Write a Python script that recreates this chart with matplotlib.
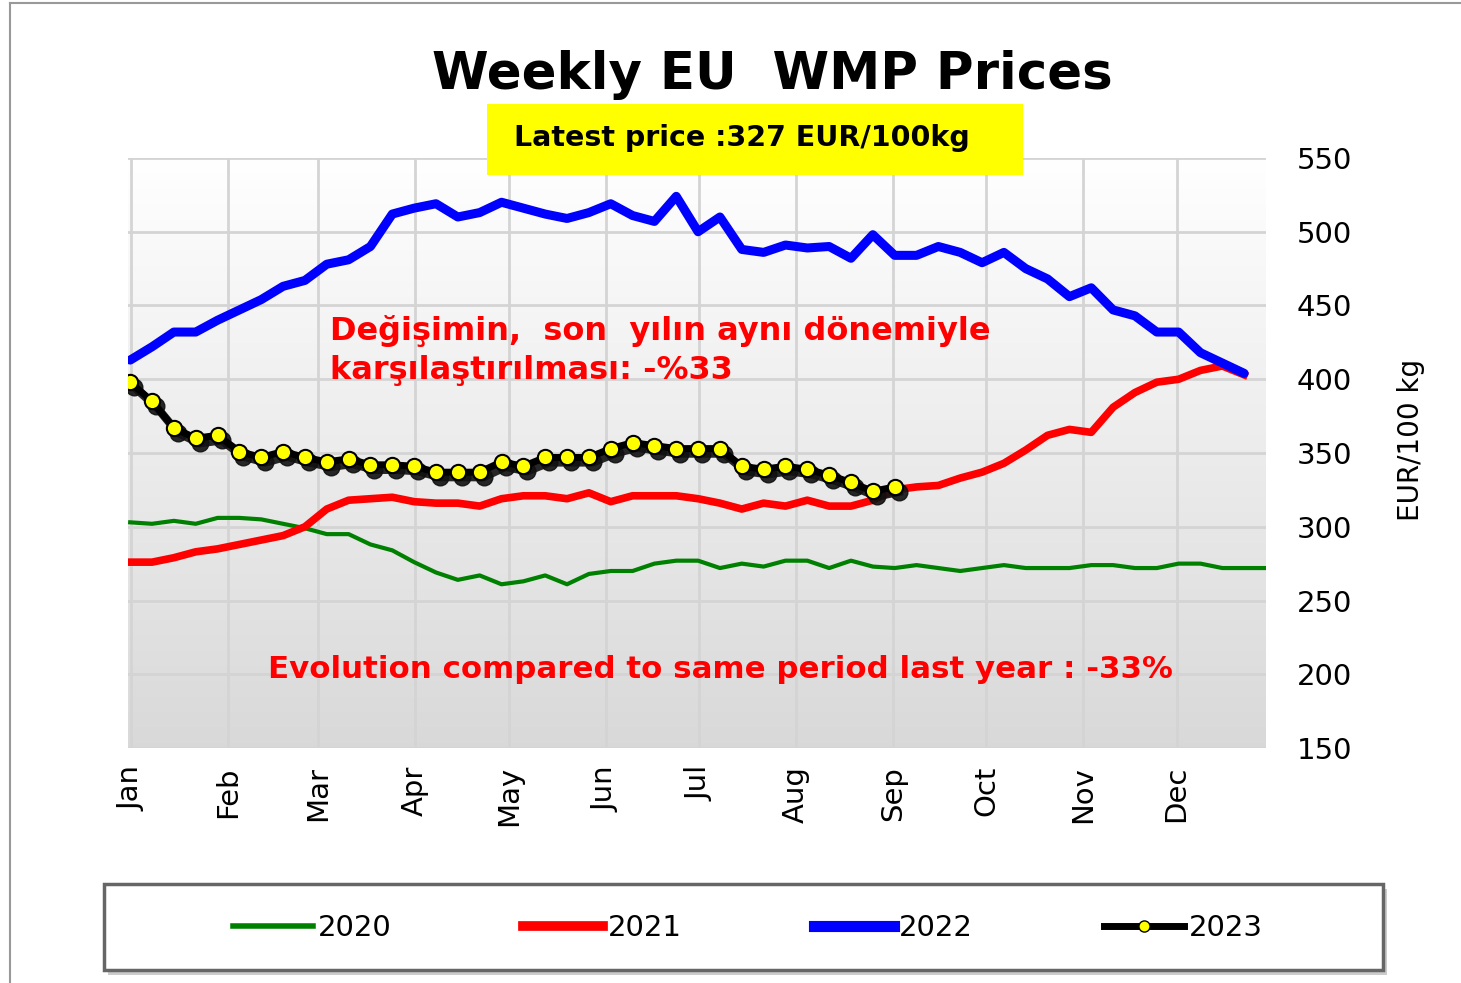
import numpy as np
import matplotlib
matplotlib.use('Agg')
import matplotlib.pyplot as plt
import matplotlib.transforms as mtransforms
from matplotlib.lines import Line2D
from matplotlib.patches import Rectangle

# weekly prices, EUR/100 kg
p2020 = [303, 302, 304, 302, 306, 306, 305, 302, 299, 295, 295, 288, 284, 276,
         269, 264, 267, 261, 263, 267, 261, 268, 270, 270, 275, 277, 277, 272,
         275, 273, 277, 277, 272, 277, 273, 272, 274, 272, 270, 272, 274, 272,
         272, 272, 274, 274, 272, 272, 275, 275, 272, 272, 272]
p2021 = [276, 276, 279, 283, 285, 288, 291, 294, 300, 312, 318, 319, 320, 317,
         316, 316, 314, 319, 321, 321, 319, 323, 317, 321, 321, 321, 319, 316,
         312, 316, 314, 318, 314, 314, 318, 325, 327, 328, 333, 337, 343, 352,
         362, 366, 364, 381, 391, 398, 400, 406, 409, 403]
p2022 = [413, 422, 432, 432, 440, 447, 454, 463, 467, 478, 481, 490, 512, 516,
         519, 510, 513, 520, 516, 512, 509, 513, 519, 511, 507, 524, 500, 510,
         488, 486, 491, 489, 490, 482, 498, 484, 484, 490, 486, 479, 486, 475,
         468, 456, 462, 447, 443, 432, 432, 418, 411, 404]
p2023 = [398, 385, 367, 360, 362, 351, 347, 351, 347, 344, 346, 342, 342, 341,
         337, 337, 337, 344, 341, 347, 347, 347, 353, 357, 355, 353, 353, 353,
         341, 339, 341, 339, 335, 330, 324, 327]

months = ['Jan', 'Feb', 'Mar', 'Apr', 'May', 'Jun', 'Jul', 'Aug', 'Sep', 'Oct', 'Nov', 'Dec']
month_start_day = [0, 31, 60, 91, 121, 152, 182, 213, 244, 274, 305, 335]
yticks = [150, 200, 250, 300, 350, 400, 450, 500, 550]

fig = plt.figure(figsize=(14.61, 9.83), dpi=100)
ax = fig.add_axes([128/1461, 1-748/983, (1266-128)/1461, (748-158)/983])

# grey gradient background
grad = np.linspace(1.0, 0.85, 256).reshape(-1, 1)
ax.imshow(np.dstack([grad, grad, grad]), extent=[0, 1, 0, 1], transform=ax.transAxes,
          aspect='auto', zorder=0, origin='upper')

mticks = [d / 7 + 0.05 for d in month_start_day]
ax.set_xticks(mticks)
ax.set_xticklabels(months, rotation=90, fontsize=21)
ax.set_yticks(yticks)
ax.yaxis.tick_right()
ax.tick_params(axis='y', labelsize=21, length=0, pad=22)
ax.tick_params(axis='x', length=0, pad=13)
ax.set_ylabel('EUR/100 kg', fontsize=20, rotation=90, va='center', ha='center')
ax.yaxis.set_label_coords(1.127, 0.522)
ax.grid(True, color='#d4d4d4', linewidth=2)
ax.set_axisbelow(True)
for s in ax.spines.values():
    s.set_visible(False)

ax.plot(range(len(p2020)), p2020, color='#008000', lw=3, zorder=3)
ax.plot(range(len(p2021)), p2021, color='#ff0000', lw=5.5, zorder=4)
ax.plot(range(len(p2022)), p2022, color='#0000ff', lw=6.5, zorder=5, solid_capstyle='round')

# 2023 with drop shadow
x23 = range(len(p2023))
shadow = mtransforms.offset_copy(ax.transData, fig=fig, x=4, y=-5, units='dots')
ax.plot(x23, p2023, color='#111111', lw=6, marker='o', ms=12, mfc='#111111', mec='#111111',
        transform=shadow, zorder=6, alpha=0.9)
ax.plot(x23, p2023, color='black', lw=5, marker='o', ms=11, mfc='#ffff00', mec='black',
        mew=1.5, zorder=7)

ax.set_xlim(-0.1, 52)
ax.set_ylim(150, 550)

# titles and annotations
fig.text(772/1461, 1-75/983, 'Weekly EU  WMP Prices', ha='center', va='center',
         fontsize=37, fontweight='bold')
fig.patches.append(Rectangle((487/1461, 1-175/983), (1023-487)/1461, (175-104)/983,
                             transform=fig.transFigure, facecolor='#ffff00', edgecolor='none',
                             zorder=5))
fig.text(742/1461, 1-138/983, 'Latest price :327 EUR/100kg', ha='center', va='center',
         fontsize=20.5, fontweight='bold', zorder=6)
fig.text(330/1461, 1-331/983, 'Değişimin,  son  yılın aynı dönemiyle', ha='left', va='center',
         fontsize=23, fontweight='bold', color='#ff0000')
fig.text(330/1461, 1-371/983, 'karşılaştırılması: -%33', ha='left', va='center',
         fontsize=23, fontweight='bold', color='#ff0000')
fig.text(720/1461, 1-670/983, 'Evolution compared to same period last year : -33%',
         ha='center', va='center', fontsize=22.2, fontweight='bold', color='#ff0000')

# figure border lines
fig.add_artist(Line2D([10/1461, 1], [1-3/983, 1-3/983], color='#999999', lw=1.5))
fig.add_artist(Line2D([10/1461, 10/1461], [0, 1-3/983], color='#999999', lw=1.5))

# legend frame with shadow
lx0, ly0, lw_, lh = 104/1461, 1-970/983, (1383-104)/1461, (970-884)/983
fig.patches.append(Rectangle((lx0 + 4/1461, ly0 - 5/983), lw_, lh, transform=fig.transFigure,
                             facecolor='#cccccc', edgecolor='none', zorder=1))
fig.patches.append(Rectangle((lx0, ly0), lw_, lh, transform=fig.transFigure,
                             facecolor='white', edgecolor='#666666', lw=2.5, zorder=2))
handles = [Line2D([], [], color='#008000', lw=4),
           Line2D([], [], color='#ff0000', lw=7),
           Line2D([], [], color='#0000ff', lw=8),
           Line2D([], [], color='black', lw=5, marker='o', ms=8, mfc='#ffff00', mec='black')]
leg = fig.legend(handles, ['2020', '2021', '2022', '2023'], ncol=4, loc='center',
                 bbox_to_anchor=(748/1461, 1-928/983), frameon=False, fontsize=21,
                 handlelength=2.75, handletextpad=0.17, columnspacing=4.5)
leg.set_zorder(3)

fig.savefig('out.png', dpi=100)
